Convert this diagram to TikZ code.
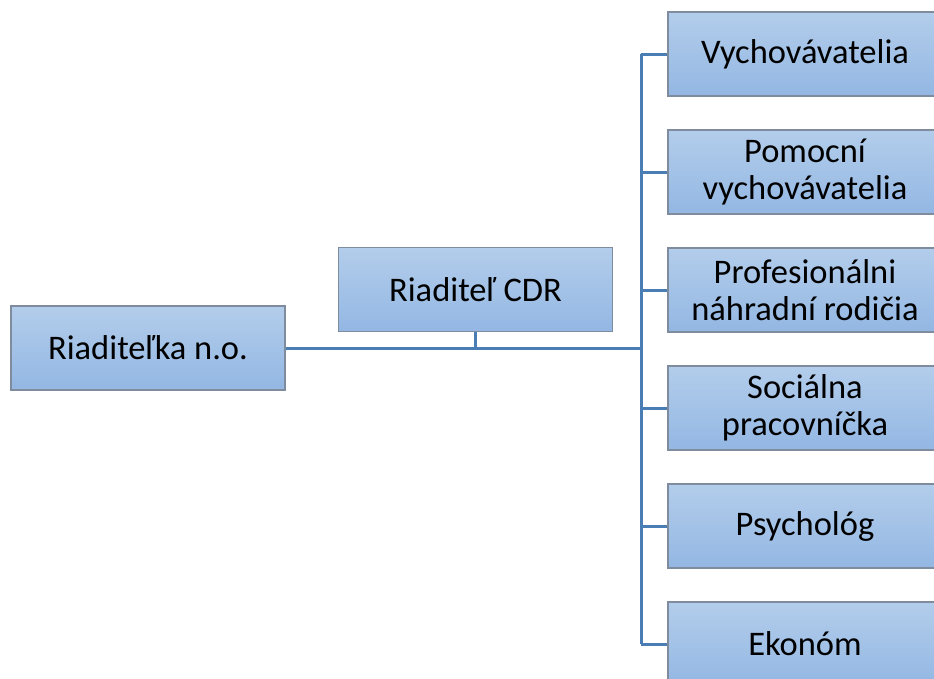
\documentclass[tikz,border=0pt]{standalone}
\usepackage{fontspec}
\setmainfont{Carlito}
\definecolor{boxtop}{HTML}{B3CDEB}
\definecolor{boxbot}{HTML}{93B7E3}
\definecolor{boxline}{HTML}{7E8C9E}
\definecolor{conn}{HTML}{4A7DB3}
\begin{document}
\begin{tikzpicture}[x=1pt,y=-1pt,
  orgbox/.style={draw=boxline, line width=1.4pt, top color=boxtop, bottom color=boxbot,
    minimum width=274pt, minimum height=84pt, inner sep=0pt, align=center,
    font=\fontsize{34.5}{36.5}\selectfont, text=black},
  link/.style={draw=conn, line width=3pt}]
\useasboundingbox (0,0) rectangle (934,678);
\clip (0,0) rectangle (934,678);
\node[orgbox] (dir) at (148,348) {Riaditeľka n.o.};
\node[orgbox] (cdr) at (475.5,289.5) {Riaditeľ CDR};
\node[orgbox] (b1) at (805,54) {Vychovávatelia};
\node[orgbox] (b2) at (805,172) {Pomocní\\vychovávatelia};
\node[orgbox] (b3) at (805,290) {Profesionálni\\náhradní rodičia};
\node[orgbox] (b4) at (805,408) {Sociálna\\pracovníčka};
\node[orgbox] (b5) at (805,526) {Psychológ};
\node[orgbox] (b6) at (805,644) {Ekonóm};
\coordinate (j) at (641,348);
\coordinate (t1) at (641,54);
\coordinate (t6) at (641,644);
\draw[link] (dir.east) -- (j);
\draw[link] (cdr.south) -- (cdr.south |- j);
\draw[link] (t1) -- (t6);
\foreach \b in {b1,b2,b3,b4,b5,b6}
  \draw[link] (\b.west -| j) -- (\b.west);
\end{tikzpicture}
\end{document}
